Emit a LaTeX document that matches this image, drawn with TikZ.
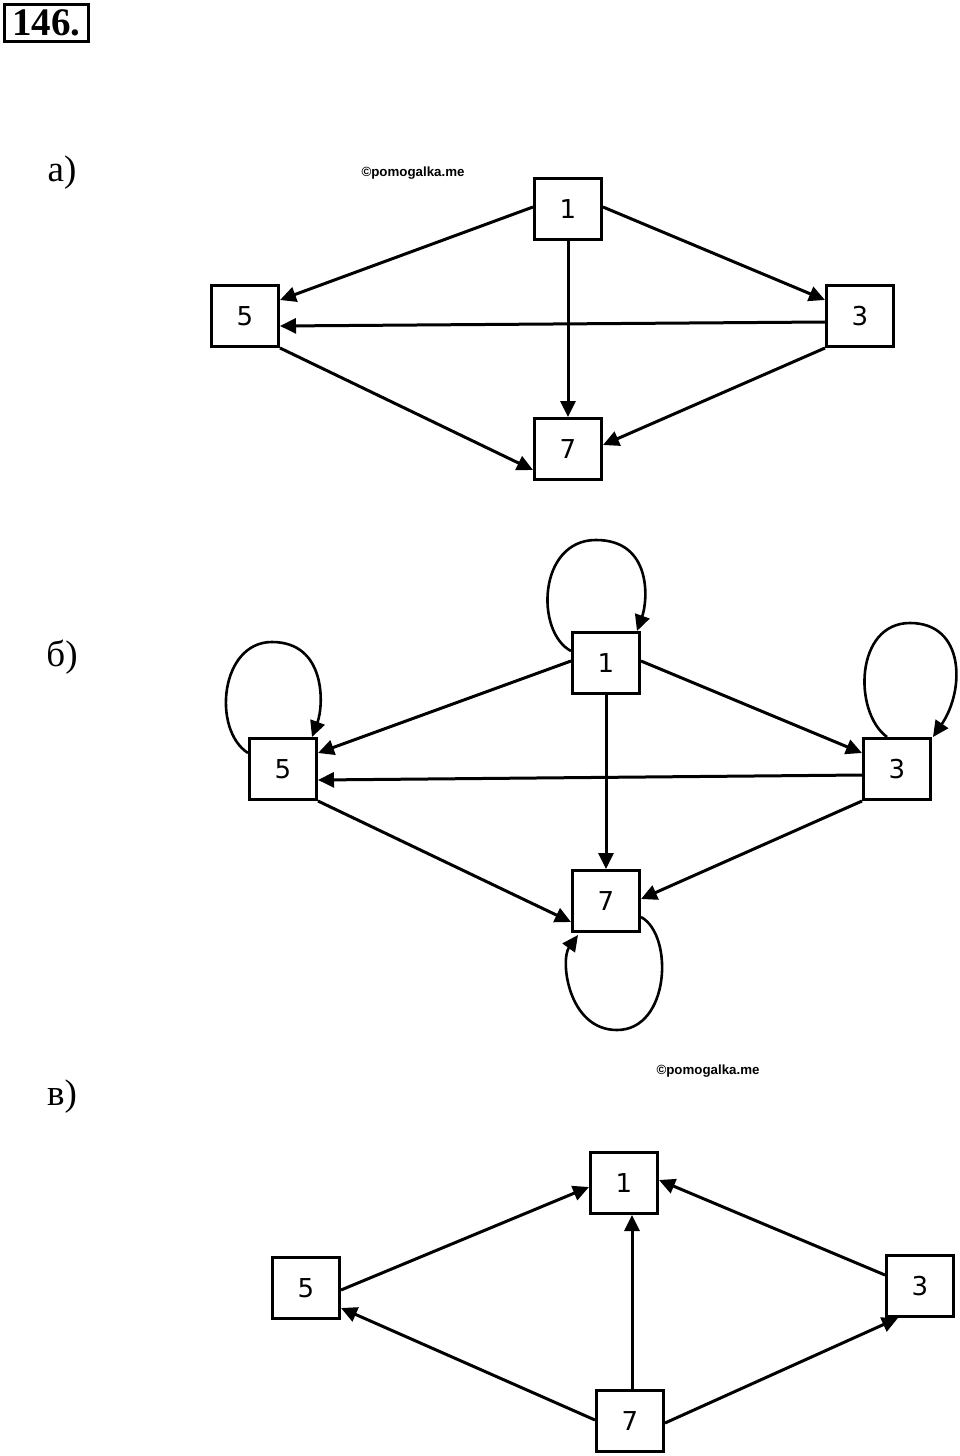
\documentclass[tikz,border=0pt]{standalone}
\usepackage{fontspec}
\setmainfont{Liberation Serif}
\newfontfamily\nodefont{DejaVu Sans}
\newfontfamily\wmfont{Liberation Sans}
\usetikzlibrary{arrows.meta}
\begin{document}
\begin{tikzpicture}[x=1pt,y=-1pt,
  vbox/.style={draw, line width=3pt, minimum width=67pt, minimum height=61pt, inner sep=0pt, font=\nodefont\fontsize{26}{26}\selectfont},
  arr/.style={line width=3pt, -{Triangle[length=16pt,width=15pt]}},
  loopline/.style={line width=2.6pt, -{Triangle[length=16pt,width=15pt]}},
  lbl/.style={font=\fontsize{37}{37}\selectfont, inner sep=0pt},
  wm/.style={font=\wmfont\bfseries\fontsize{13.3}{13.3}\selectfont, inner sep=0pt},
  numbox/.style={draw, line width=3.2pt, minimum width=84pt, minimum height=37pt, inner sep=0pt, font=\bfseries\fontsize{39}{39}\selectfont}]
\useasboundingbox (0,0) rectangle (960,1456);
\fill[white] (0,0) rectangle (960,1456);

\node[numbox] (num) at (46.5,23) {146.};

% labels
\node[lbl] (la) at (62,173) {а)};
\node[lbl] (lb) at (62,657) {б)};
\node[lbl] (lc) at (62,1097) {в)};
\node[wm] (wm1) at (413,173) {©pomogalka.me};
\node[wm] (wm2) at (708,1071) {©pomogalka.me};

% part a
\node[vbox] (a1) at (568,209) {1};
\node[vbox] (a5) at (245,316) {5};
\node[vbox] (a3) at (860,316) {3};
\node[vbox] (a7) at (568,449) {7};
\draw[arr] ([yshift=2]a1.west) -- ([yshift=16]a5.east);
\draw[arr] ([yshift=2]a1.east) -- ([yshift=16]a3.west);
\draw[arr] (a1.south) -- (a7.north);
\draw[arr] ([yshift=-6]a3.west) -- ([yshift=-10]a5.east);
\draw[arr] (a5.south east) -- ([yshift=-21]a7.west);
\draw[arr] (a3.south west) -- ([yshift=4]a7.east);

% part b
\node[vbox] (b1) at (606,663) {1};
\node[vbox] (b5) at (283,769) {5};
\node[vbox] (b3) at (897,769) {3};
\node[vbox] (b7) at (606,901) {7};
\draw[arr] ([yshift=2]b1.west) -- ([yshift=16]b5.east);
\draw[arr] ([yshift=2]b1.east) -- ([yshift=16]b3.west);
\draw[arr] (b1.south) -- (b7.north);
\draw[arr] ([yshift=-6]b3.west) -- ([yshift=-11]b5.east);
\draw[arr] (b5.south east) -- ([yshift=-21]b7.west);
\draw[arr] (b3.south west) -- ([yshift=2]b7.east);
% loops
\draw[loopline] ([yshift=12]b1.west) .. controls (535,632) and (538,540) .. (596,540)
  .. controls (652,540) and (648,600) .. ([xshift=-4]b1.north east);
\draw[loopline] ([yshift=16]b5.west) .. controls (212,730) and (220,642) .. (272,642)
  .. controls (326,642) and (324,705) .. ([xshift=-6]b5.north east);
\draw[loopline] ([xshift=-10]b3.north) .. controls (853,712) and (855,623) .. (910,623)
  .. controls (965,623) and (965,690) .. ([xshift=1]b3.north east);
\draw[loopline] ([yshift=-16]b7.east) .. controls (674,935) and (670,1030) .. (617,1030)
  .. controls (568,1030) and (560,960) .. ([xshift=7,yshift=-2]b7.south west);

% part c
\node[vbox] (c1) at (624,1183) {1};
\node[vbox] (c5) at (306,1288) {5};
\node[vbox] (c3) at (920,1286) {3};
\node[vbox] (c7) at (630,1421) {7};
\draw[arr] ([yshift=-2]c5.east) -- ([yshift=-4]c1.west);
\draw[arr] ([xshift=2]c7.north) -- ([xshift=8]c1.south);
\draw[arr] ([yshift=11]c3.west) -- ([yshift=3]c1.east);
\draw[arr] ([yshift=1]c7.west) -- ([yshift=-20]c5.east);
\draw[arr] ([yshift=-2]c7.east) -- ([xshift=-22]c3.south);
\end{tikzpicture}
\end{document}
